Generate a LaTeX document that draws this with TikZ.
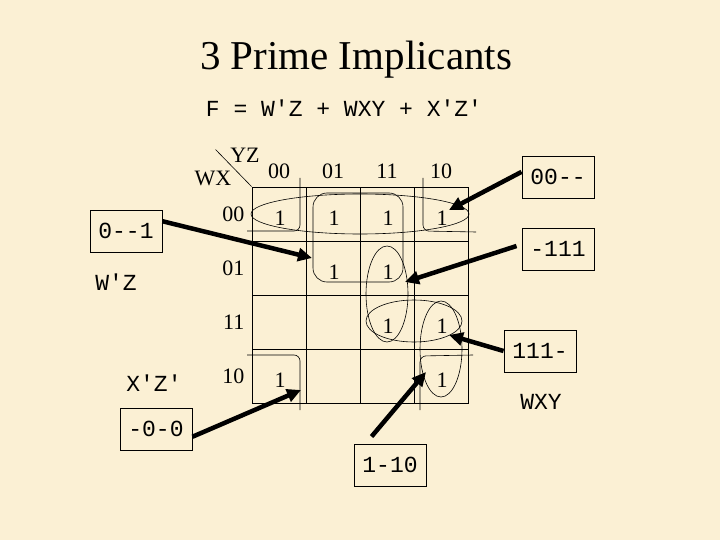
\documentclass[tikz,border=0pt]{standalone}
\usepackage{fontspec}
\setmainfont{Liberation Serif}
\setmonofont{Liberation Mono}
\usetikzlibrary{positioning,arrows.meta,calc}
\definecolor{parchment}{RGB}{251,240,212}
\tikzset{
  cell/.style={draw, minimum size=54pt, inner sep=0pt, line width=0.9pt},
  one/.style={inner sep=0pt, font=\fontsize{22}{22}\selectfont},
  hdr/.style={inner sep=0pt, font=\fontsize{22}{22}\selectfont},
  tag/.style={draw, minimum width=72pt, minimum height=42pt, line width=0.9pt, font=\ttfamily\fontsize{23}{23}\selectfont},
  term/.style={inner sep=0pt, font=\ttfamily\fontsize{23}{23}\selectfont},
  loop/.style={line width=0.6pt},
  ptr/.style={line width=4.5pt, -{Triangle[length=14pt,width=13pt]}},
}

\begin{document}
\begin{tikzpicture}[x=1pt, y=-1pt]
  % page
  \fill[parchment] (0,0) rectangle (720,540);
  % title and function
  \node[anchor=base, font=\fontsize{41}{44}\selectfont] (title) at (356,70) {3 Prime Implicants};
  \node[term, anchor=base] (func) at (344,117) {F = W'Z + WXY + X'Z'};
  % map cells
  \foreach \r in {0,...,3}
    \foreach \c in {0,...,3}
      \node[cell] (c\r\c) at ({279+54*\c},{214+54*\r}) {};
  % gray code on both sides
  \foreach \g [count=\i from 0] in {00,01,11,10} {
    \node[hdr, above=8pt of c0\i] (k\i) {\g};
    \node[hdr, left=7pt of c\i0] (r\i) {\g};
  }
  % corner of the map
  \draw[line width=0.6pt] (c00.north west) -- ++(-36,-37);
  \node[hdr] (yz) at (245,155) {YZ};
  \node[hdr] (wx) at (213,178) {WX};
  % minterms
  \foreach \r/\c in {0/0,0/1,0/2,0/3,1/1,1/2,2/2,2/3,3/0,3/3}
    \node[one] (o\r\c) at ($(c\r\c)+(1,4)$) {1};
  % groups
  \draw[loop] (360,214) ellipse [x radius=109, y radius=20];
  \draw[loop, rounded corners=14pt] (313,193) rectangle (403,282);
  \draw[loop] (387,294) ellipse [x radius=21, y radius=48];
  \draw[loop] (414,321) ellipse [x radius=48, y radius=21];
  \draw[loop] (441,349) ellipse [x radius=21, y radius=48];
  % X'Z' wraps round the four corners
  \draw[loop, rounded corners=6pt] (300,178) -- (300,231) -- (247,231);
  \draw[loop, rounded corners=6pt] (423,178) -- (423,231) -- (476,232);
  \draw[loop, rounded corners=6pt] (247,355) -- (300,355) -- (300,410);
  \draw[loop, rounded corners=6pt] (473,355) -- (420,356) -- (420,410);
  % implicant tags
  \node[tag] (t0x1) at (126,231) {0--1};
  \node[term] (wz) at (116,282) {W'Z};
  \node[term] (xz) at (154,383) {X'Z'};
  \node[tag] (tx0x0) at (156,429) {-0-0};
  \node[tag] (t1x10) at (390,465) {1-10};
  \node[tag] (t00xx) at (558,177) {00--};
  \node[tag] (tx111) at (558,249) {-111};
  \node[tag] (t111x) at (540,351) {111-};
  \node[term] (wxy) at (541,402) {WXY};
  % arrow targets on the loops
  \coordinate (p00xx) at (449,210);
  \coordinate (p0x1) at (312,258);
  \coordinate (px111) at (405,282);
  \coordinate (p111x) at (449,335);
  \coordinate (p1x10) at (426,372);
  \coordinate (px0x0) at (301,390);
  % pointers
  \draw[ptr] (t00xx.172) -- (p00xx);
  \draw[ptr] (t0x1.15) -- (p0x1);
  \draw[ptr] ($(tx111.west)+(-5,-3)$) -- (px111);
  \draw[ptr] (t111x.west) -- (p111x);
  \draw[ptr] ($(t1x10.north west)+(18,-7)$) -- (p1x10);
  \draw[ptr] (tx0x0.-12) -- (px0x0);
\end{tikzpicture}
\end{document}
